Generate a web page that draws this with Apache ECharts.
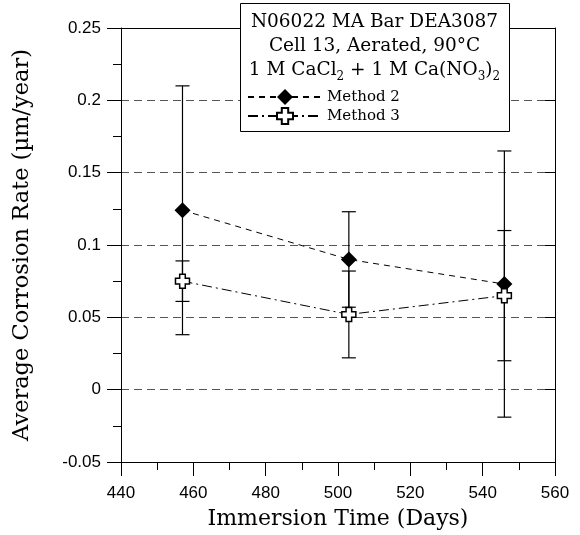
<!DOCTYPE html>
<html>
<head>
<meta charset="utf-8">
<script src="https://cdn.jsdelivr.net/npm/echarts@6/dist/echarts.min.js"></script>
<style>
html,body{margin:0;padding:0;background:#fff;}
#chart{width:580px;height:535px;}
</style>
</head>
<body>
<div id="chart"></div>
<script>
// ---- data ----
var days = [457, 503, 546];
var method2 = [0.124, 0.090, 0.073];
var method2Err = [0.086, 0.033, 0.092];
var method3 = [0.075, 0.052, 0.065];
var method3Err = [0.014, 0.030, 0.045];
var seriesNames = ['Method 2', 'Method 3'];
var xTicks = {min: 440, max: 560, interval: 20};
var yTicks = {min: -0.05, max: 0.25, interval: 0.05};
var titleLines = ['N06022 MA Bar DEA3087', 'Cell 13, Aerated, 90\u00B0C'];

var serif = 'DejaVu Serif';
var sans = 'Liberation Sans';

function pts(xs, ys) { return xs.map(function (x, i) { return [x, ys[i]]; }); }
function errData(xs, ys, es) { return xs.map(function (x, i) { return [x, ys[i] - es[i], ys[i] + es[i]]; }); }

function errRender(params, api) {
  var x = api.value(0);
  var lo = api.coord([x, api.value(1)]);
  var hi = api.coord([x, api.value(2)]);
  var hw = 7;
  var st = {stroke: '#000', lineWidth: 1.2};
  return {
    type: 'group',
    children: [
      {type: 'line', shape: {x1: lo[0], y1: lo[1], x2: hi[0], y2: hi[1]}, style: st},
      {type: 'line', shape: {x1: lo[0] - hw, y1: lo[1], x2: lo[0] + hw, y2: lo[1]}, style: st},
      {type: 'line', shape: {x1: hi[0] - hw, y1: hi[1], x2: hi[0] + hw, y2: hi[1]}, style: st}
    ]
  };
}

var crossPath = 'path://M3,0 L7,0 L7,3 L10,3 L10,7 L7,7 L7,10 L3,10 L3,7 L0,7 L0,3 L3,3 Z';

var chart = echarts.init(document.getElementById('chart'), null, {renderer: 'canvas'});
var option = {
  animation: false,
  backgroundColor: '#fff',
  grid: {left: 121, right: 25, top: 28, bottom: 72},
  xAxis: [{
    type: 'value', min: xTicks.min, max: xTicks.max, interval: xTicks.interval,
    name: 'Immersion Time (Days)', nameLocation: 'middle', nameGap: 46,
    nameTextStyle: {fontFamily: serif, fontSize: 22, color: '#000'},
    axisLine: {show: true, onZero: false, lineStyle: {color: '#000', width: 1}},
    axisTick: {show: true, length: 14, lineStyle: {color: '#000'}},
    minorTick: {show: true, splitNumber: 2, length: 8, lineStyle: {color: '#000'}},
    axisLabel: {fontFamily: sans, fontSize: 17, color: '#000', margin: 23},
    splitLine: {show: false}
  }, {
    type: 'value', position: 'top', min: xTicks.min, max: xTicks.max, interval: xTicks.interval,
    axisLine: {show: true, onZero: false, lineStyle: {color: '#000', width: 1}},
    axisTick: {show: false}, axisLabel: {show: false}, splitLine: {show: false}
  }],
  yAxis: [{
    type: 'value', min: yTicks.min, max: yTicks.max, interval: yTicks.interval,
    name: 'Average Corrosion Rate (\u00B5m/year)', nameLocation: 'middle', nameGap: 87,
    nameTextStyle: {fontFamily: serif, fontSize: 22.5, color: '#000'},
    axisLine: {show: true, onZero: false, lineStyle: {color: '#000', width: 1}},
    axisTick: {show: true, length: 14, lineStyle: {color: '#000'}},
    minorTick: {show: true, splitNumber: 2, length: 8, lineStyle: {color: '#000'}},
    axisLabel: {fontFamily: sans, fontSize: 17, color: '#000', margin: 20},
    splitLine: {show: true, lineStyle: {color: '#555', width: 1, type: [8, 5]}}
  }, {
    type: 'value', position: 'right', min: yTicks.min, max: yTicks.max, interval: yTicks.interval,
    axisLine: {show: true, onZero: false, lineStyle: {color: '#000', width: 1}},
    axisTick: {show: true, inside: true, length: 10, lineStyle: {color: '#000'}},
    axisLabel: {show: false}, splitLine: {show: false}
  }],
  legend: {
    data: seriesNames,
    orient: 'vertical', left: 242, top: 84,
    itemWidth: 74, itemHeight: 20, itemGap: 2,
    textStyle: {fontFamily: serif, fontSize: 15, color: '#000'},
    selectedMode: false, z: 100
  },
  graphic: [
    {type: 'rect', left: 240, top: 3, z: 50, shape: {width: 269, height: 128},
     style: {fill: '#fff', stroke: '#000', lineWidth: 1}},
    {type: 'text', z: 60, x: 374.5, y: 22,
     style: {text: titleLines[0], fill: '#000', font: '18.5px "DejaVu Serif"', textAlign: 'center', textVerticalAlign: 'middle'}},
    {type: 'text', z: 60, x: 374.5, y: 46,
     style: {text: titleLines[1], fill: '#000', font: '18.5px "DejaVu Serif"', textAlign: 'center', textVerticalAlign: 'middle'}},
    {type: 'text', z: 60, x: 374.5, y: 70,
     style: {
       text: '1 M CaCl{s|2} + 1 M Ca(NO{s|3}){s|2}', fill: '#000',
       font: '18.5px "DejaVu Serif"', textAlign: 'center', textVerticalAlign: 'middle',
       rich: {s: {fontFamily: serif, fontSize: 12, verticalAlign: 'bottom', lineHeight: 26}}
     }}
  ],
  series: [
    {type: 'custom', name: 'err2', renderItem: errRender, data: errData(days, method2, method2Err), z: 1, silent: true},
    {type: 'custom', name: 'err3', renderItem: errRender, data: errData(days, method3, method3Err), z: 1, silent: true},
    {
      type: 'line', name: seriesNames[0], data: pts(days, method2), z: 5,
      symbol: 'diamond', symbolSize: 16, showSymbol: true,
      itemStyle: {color: '#000'},
      lineStyle: {color: '#000', width: 1, type: [6, 5]}
    },
    {
      type: 'line', name: seriesNames[1], data: pts(days, method3), z: 6,
      symbol: crossPath, symbolSize: 14, showSymbol: true,
      itemStyle: {color: '#fff', borderColor: '#000', borderWidth: 1.5},
      lineStyle: {color: '#000', width: 1, type: [10, 4, 2, 4]}
    }
  ]
};
chart.setOption(option);
</script>
</body>
</html>
